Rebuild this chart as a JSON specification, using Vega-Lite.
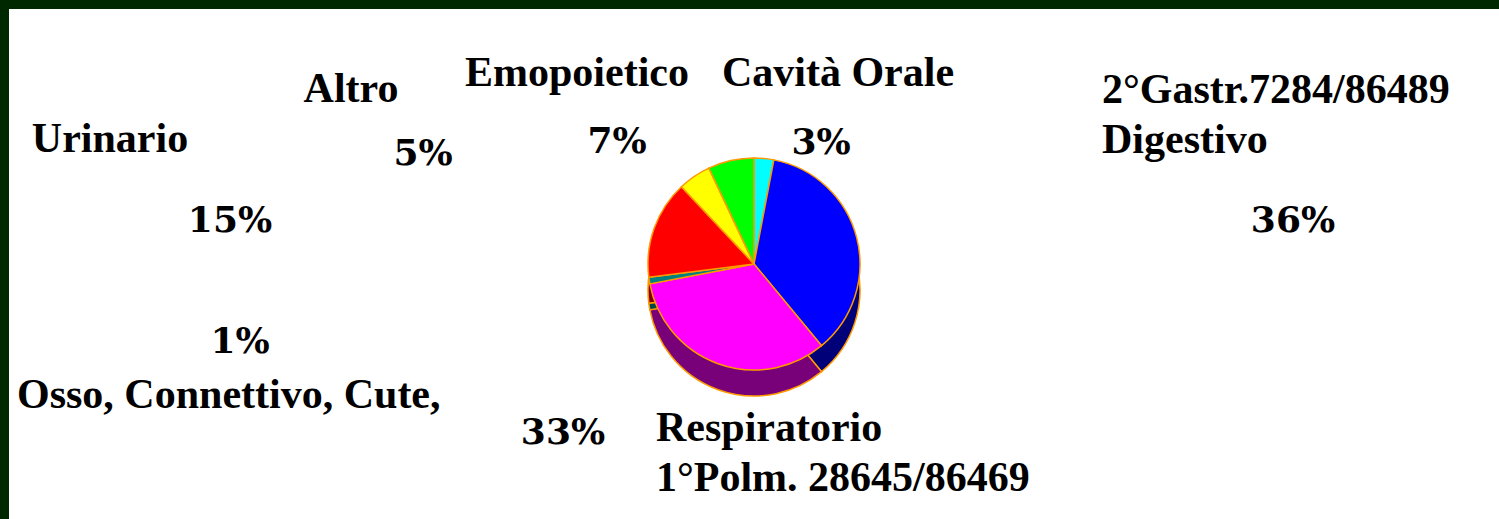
{
  "$schema": "https://vega.github.io/schema/vega-lite/v6.json",
  "width": 1499,
  "height": 519,
  "autosize": {"type": "fit", "contains": "padding"},
  "padding": {"left": 9, "top": 9, "right": 0, "bottom": 0},
  "background": "#002800",
  "view": {"fill": "white", "stroke": null},
  "config": {
    "view": {"fill": "white", "stroke": null},
    "style": {
      "name": {"font": "Liberation Serif", "fontWeight": "bold", "fontSize": 42, "fill": "black", "baseline": "alphabetic", "lineBreak": "\n", "lineHeight": 50},
      "pct": {"font": "DejaVu Serif", "fontWeight": "bold", "fontSize": 36, "fill": "black", "baseline": "alphabetic", "align": "center"}
    }
  },
  "data": {
    "values": [
      {"cat": "Cavità Orale", "value": 3, "order": 1, "pct": "3%", "label": "Cavità Orale"},
      {"cat": "Digestivo", "value": 36, "order": 2, "pct": "36%", "label": "2°Gastr.7284/86489\nDigestivo"},
      {"cat": "Respiratorio", "value": 33, "order": 3, "pct": "33%", "label": "Respiratorio\n1°Polm. 28645/86469"},
      {"cat": "Osso, Connettivo, Cute,", "value": 1, "order": 4, "pct": "1%", "label": "Osso, Connettivo, Cute,"},
      {"cat": "Urinario", "value": 15, "order": 5, "pct": "15%", "label": "Urinario"},
      {"cat": "Altro", "value": 5, "order": 6, "pct": "5%", "label": "Altro"},
      {"cat": "Emopoietico", "value": 7, "order": 7, "pct": "7%", "label": "Emopoietico"}
    ]
  },
  "layer": [
    {
      "mark": {"type": "arc", "radius": 106, "yOffset": 9},
      "encoding": {
        "theta": {"field": "value", "type": "quantitative", "stack": true},
        "order": {"field": "order", "type": "quantitative"},
        "color": {"field": "cat", "type": "nominal", "legend": null,
          "scale": {"domain": ["Cavità Orale", "Digestivo", "Respiratorio", "Osso, Connettivo, Cute,", "Urinario", "Altro", "Emopoietico"],
                    "range": ["#008080", "#000078", "#780078", "#004848", "#800000", "#808000", "#008000"]}}
      }
    },
    {
      "mark": {"type": "arc", "radius": 106, "yOffset": 17},
      "encoding": {
        "theta": {"field": "value", "type": "quantitative", "stack": true},
        "order": {"field": "order", "type": "quantitative"},
        "color": {"field": "cat", "type": "nominal", "legend": null,
          "scale": {"domain": ["Cavità Orale", "Digestivo", "Respiratorio", "Osso, Connettivo, Cute,", "Urinario", "Altro", "Emopoietico"],
                    "range": ["#008080", "#000078", "#780078", "#004848", "#800000", "#808000", "#008000"]}}
      }
    },
    {
      "mark": {"type": "arc", "radius": 106, "yOffset": 26, "stroke": "#FF9900", "strokeWidth": 1.5},
      "encoding": {
        "theta": {"field": "value", "type": "quantitative", "stack": true},
        "order": {"field": "order", "type": "quantitative"},
        "color": {"field": "cat", "type": "nominal", "legend": null,
          "scale": {"domain": ["Cavità Orale", "Digestivo", "Respiratorio", "Osso, Connettivo, Cute,", "Urinario", "Altro", "Emopoietico"],
                    "range": ["#008080", "#000078", "#780078", "#004848", "#800000", "#808000", "#008000"]}}
      }
    },
    {
      "mark": {"type": "arc", "radius": 106, "stroke": "#FF9900", "strokeWidth": 1.5},
      "encoding": {
        "theta": {"field": "value", "type": "quantitative", "stack": true},
        "order": {"field": "order", "type": "quantitative"},
        "color": {"field": "cat", "type": "nominal", "legend": null,
          "scale": {"domain": ["Cavità Orale", "Digestivo", "Respiratorio", "Osso, Connettivo, Cute,", "Urinario", "Altro", "Emopoietico"],
                    "range": ["#00FFFF", "#0000FF", "#FF00FF", "#008080", "#FF0000", "#FFFF00", "#00FF00"]}}
      }
    },
    {"transform": [{"filter": "datum.cat == 'Cavità Orale'"}], "mark": {"type": "text", "style": "name", "align": "center", "dx": 84, "dy": -178}, "encoding": {"text": {"field": "label"}}},
    {"transform": [{"filter": "datum.cat == 'Emopoietico'"}], "mark": {"type": "text", "style": "name", "align": "center", "dx": -177, "dy": -178}, "encoding": {"text": {"field": "label"}}},
    {"transform": [{"filter": "datum.cat == 'Altro'"}], "mark": {"type": "text", "style": "name", "align": "center", "dx": -403, "dy": -162}, "encoding": {"text": {"field": "label"}}},
    {"transform": [{"filter": "datum.cat == 'Urinario'"}], "mark": {"type": "text", "style": "name", "align": "center", "dx": -644, "dy": -112}, "encoding": {"text": {"field": "label"}}},
    {"transform": [{"filter": "datum.cat == 'Digestivo'"}], "mark": {"type": "text", "style": "name", "align": "left", "dx": 348, "dy": -161}, "encoding": {"text": {"field": "label"}}},
    {"transform": [{"filter": "datum.cat == 'Osso, Connettivo, Cute,'"}], "mark": {"type": "text", "style": "name", "align": "left", "dx": -737, "dy": 144}, "encoding": {"text": {"field": "label"}}},
    {"transform": [{"filter": "datum.cat == 'Respiratorio'"}], "mark": {"type": "text", "style": "name", "align": "left", "dx": -98, "dy": 177}, "encoding": {"text": {"field": "label"}}},
    {"transform": [{"filter": "datum.cat == 'Cavità Orale'"}], "mark": {"type": "text", "style": "pct", "dx": 67, "dy": -110}, "encoding": {"text": {"field": "pct"}}},
    {"transform": [{"filter": "datum.cat == 'Emopoietico'"}], "mark": {"type": "text", "style": "pct", "dx": -137, "dy": -111}, "encoding": {"text": {"field": "pct"}}},
    {"transform": [{"filter": "datum.cat == 'Altro'"}], "mark": {"type": "text", "style": "pct", "dx": -331, "dy": -99}, "encoding": {"text": {"field": "pct"}}},
    {"transform": [{"filter": "datum.cat == 'Urinario'"}], "mark": {"type": "text", "style": "pct", "dx": -524, "dy": -32}, "encoding": {"text": {"field": "pct"}}},
    {"transform": [{"filter": "datum.cat == 'Digestivo'"}], "mark": {"type": "text", "style": "pct", "dx": 539, "dy": -32}, "encoding": {"text": {"field": "pct"}}},
    {"transform": [{"filter": "datum.cat == 'Osso, Connettivo, Cute,'"}], "mark": {"type": "text", "style": "pct", "dx": -514, "dy": 89}, "encoding": {"text": {"field": "pct"}}},
    {"transform": [{"filter": "datum.cat == 'Respiratorio'"}], "mark": {"type": "text", "style": "pct", "dx": -191, "dy": 180}, "encoding": {"text": {"field": "pct"}}}
  ],
  "resolve": {"scale": {"color": "independent"}}
}
